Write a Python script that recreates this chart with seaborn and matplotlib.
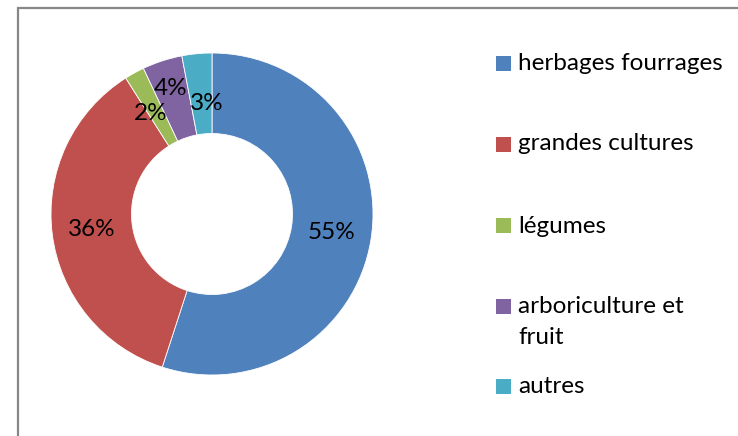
import matplotlib
matplotlib.use("Agg")
import matplotlib.pyplot as plt
from matplotlib.patches import Rectangle
import seaborn as sns

# Répartition des surfaces par type de culture
categories = ["herbages fourrages", "grandes cultures", "légumes",
              "arboriculture et\nfruit", "autres"]
values = [55, 36, 2, 4, 3]
colors = ["#4F81BD", "#C0504D", "#9BBB59", "#8064A2", "#4BACC6"]

sns.set_theme(style="white")
plt.rcParams["font.family"] = ["Lato", "DejaVu Sans"]

W, H = 738, 436
FS = 17.5
fig = plt.figure(figsize=(W / 100, H / 100), dpi=100)
fig.patch.set_facecolor("white")

# outer chart frame (top and left edges visible)
fig.add_artist(Rectangle((18 / W, -0.1), 1.2, (H - 8) / H + 0.1,
                         transform=fig.transFigure, fill=False,
                         edgecolor="#878787", linewidth=1.6))

# donut
cx, cy, r = 212, 214, 161
ax = fig.add_axes([(cx - r) / W, (H - cy - r) / H, 2 * r / W, 2 * r / H])
wedges, texts, autotexts = ax.pie(
    values, colors=colors, startangle=90, counterclock=False,
    radius=1.0, wedgeprops=dict(width=0.5, edgecolor="white", linewidth=0.6),
    autopct=lambda p: f"{p:.0f}%", pctdistance=0.75,
    textprops=dict(fontsize=FS, color="black"))

# spread the labels of the thin slices so they stay readable
nudges = {2: (-0.02, -0.03), 3: (-0.025, 0.065), 4: (0.035, -0.06)}
for i, (dx, dy) in nudges.items():
    x, y = autotexts[i].get_position()
    autotexts[i].set_position((x + dx, y + dy))

ax.set_xlim(-1, 1)
ax.set_ylim(-1, 1)
ax.set_aspect("equal")
ax.axis("off")

# legend
leg_y = [64, 144, 226, 306, 386]
sq = 15
for label, col, y in zip(categories, colors, leg_y):
    fig.add_artist(Rectangle((496 / W, (H - y - sq / 2) / H), sq / W, sq / H,
                             transform=fig.transFigure, facecolor=col,
                             edgecolor="none"))
    for i, line in enumerate(label.split("\n")):
        fig.text(518 / W, (H - y - i * 31) / H, line, fontsize=FS,
                 va="center", ha="left", color="black")

fig.savefig("out.png", dpi=100)
